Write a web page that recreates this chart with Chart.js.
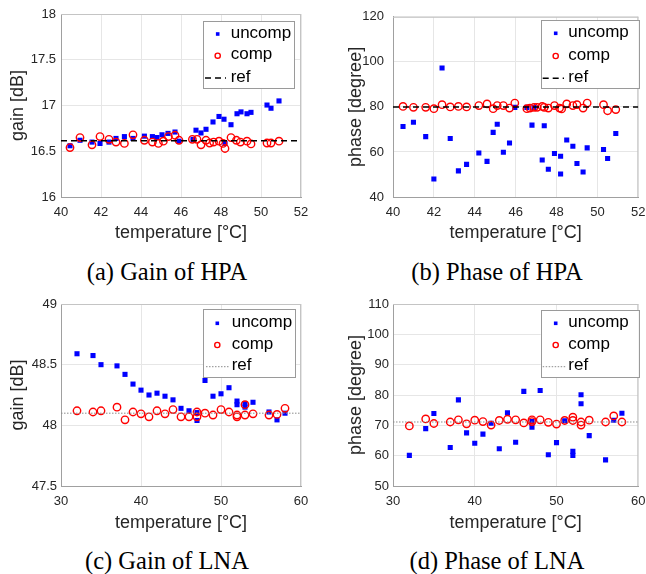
<!DOCTYPE html>
<html><head><meta charset="utf-8">
<script src="https://cdn.jsdelivr.net/npm/chart.js@4.4.1/dist/chart.umd.min.js"></script>
<style>
html,body{margin:0;padding:0;width:646px;height:574px;overflow:hidden;background:#fff;}
.panel{position:absolute;}
.panel canvas{display:block;}
.cap{position:absolute;font-family:"Liberation Serif","Times New Roman",serif;font-size:24.5px;color:#000;white-space:nowrap;transform:translate(-50%,-50%);line-height:1;}
</style></head><body>
<div class="panel" style="left:0px;top:0px"><canvas id="ca" width="323" height="250"></canvas></div>
<div class="panel" style="left:323px;top:0px"><canvas id="cb" width="330" height="250"></canvas></div>
<div class="panel" style="left:0px;top:290px"><canvas id="cc" width="323" height="250"></canvas></div>
<div class="panel" style="left:323px;top:290px"><canvas id="cd" width="330" height="250"></canvas></div>
<div class="cap" style="left:167px;top:272px">(a) Gain of HPA</div>
<div class="cap" style="left:497px;top:272px">(b) Phase of HPA</div>
<div class="cap" style="left:167px;top:561px">(c) Gain of LNA</div>
<div class="cap" style="left:497px;top:561px">(d) Phase of LNA</div>
<script>
// ---------------- DATA ----------------
const seriesNames = ['uncomp', 'comp', 'ref'];
const xTitle = 'temperature [°C]';
const yTitles = ['gain [dB]', 'phase [degree]', 'gain [dB]', 'phase [degree]'];

// HPA x ticks
const hpaXTicks = [40, 42, 44, 46, 48, 50, 52];
const hpaXTickLabels = ['40', '42', '44', '46', '48', '50', '52'];
// LNA x ticks
const lnaXTicks = [30, 40, 50, 60];
const lnaXTickLabels = ['30', '40', '50', '60'];

// (a) Gain of HPA
const gainHpaYTicks = [16, 16.5, 17, 17.5, 18];
const gainHpaYTickLabels = ['16', '16.5', '17', '17.5', '18'];
const gainHpaUncompTemp = [40.45,40.95,41.55,41.95,42.4,42.75,43.17,43.6,44.17,44.57,44.8,45.05,45.35,45.7,45.9,46.6,46.75,47.0,47.25,47.6,47.9,48.15,48.2,48.5,48.8,49.0,49.3,49.5,50.3,50.5,50.9];
const gainHpaUncomp = [16.56,16.62,16.60,16.585,16.60,16.64,16.66,16.64,16.665,16.66,16.65,16.68,16.695,16.71,16.61,16.63,16.73,16.70,16.74,16.82,16.88,16.85,16.585,16.79,16.91,16.93,16.91,16.925,17.005,16.97,17.05];
const gainHpaCompTemp = [40.45,40.95,41.55,41.95,42.4,42.75,43.17,43.6,44.17,44.57,44.87,45.12,45.37,45.7,45.9,46.57,46.8,47.0,47.25,47.43,47.63,47.9,48.1,48.2,48.5,48.77,48.97,49.3,49.5,50.3,50.5,50.9];
const gainHpaComp = [16.54,16.65,16.57,16.66,16.63,16.60,16.585,16.68,16.62,16.60,16.585,16.61,16.66,16.675,16.62,16.63,16.63,16.57,16.62,16.59,16.60,16.61,16.585,16.53,16.65,16.62,16.60,16.61,16.58,16.59,16.59,16.61];
const gainHpaRef = 16.615;

// (b) Phase of HPA
const phaseHpaYTicks = [40, 60, 80, 100, 120];
const phaseHpaYTickLabels = ['40', '60', '80', '100', '120'];
const phaseHpaUncompTemp = [40.49,41.0,41.6,42.0,42.4,42.8,43.2,43.6,44.2,44.6,44.9,45.1,45.4,45.7,45.96,46.55,46.8,46.9,47.3,47.4,47.6,47.9,48.2,48.2,48.5,48.8,49.0,49.3,49.5,50.3,50.5,50.9];
const phaseHpaUncomp = [71.3,73.2,66.8,48.0,97.3,66.0,51.6,54.5,59.5,55.8,68.7,72.3,59.9,64.0,79.8,79.8,71.9,79.8,56.4,71.6,52.3,59.3,58.1,50.2,65.3,62.5,54.9,51.1,61.8,61.1,57.1,68.2];
const phaseHpaCompTemp = [40.49,41.0,41.6,42.0,42.4,42.8,43.2,43.6,44.2,44.6,44.9,45.1,45.4,45.7,45.96,46.55,46.7,46.9,47.05,47.3,47.4,47.6,47.9,48.15,48.25,48.5,48.8,49.0,49.3,49.5,50.3,50.5,50.9];
const phaseHpaComp = [80.2,79.8,79.8,79.2,81.0,80.0,80.2,80.0,80.6,81.3,79.2,80.6,80.6,79.5,81.7,79.2,79.5,79.8,79.8,80.2,79.8,79.5,80.6,79.5,79.1,81.3,80.6,81.0,79.5,81.7,81.0,78.3,78.8];
const phaseHpaRef = 80;

// LNA temperatures
const lnaTemp = [32,34,35,37,38,39,40,41,42,43,44,45,46,47,47,48,49,50,51,52,52,53,53,54,56,57,58];

// (c) Gain of LNA
const gainLnaYTicks = [47.5, 48, 48.5, 49];
const gainLnaYTickLabels = ['47.5', '48', '48.5', '49'];
const gainLnaUncomp = [48.59,48.575,48.50,48.49,48.42,48.34,48.29,48.25,48.265,48.24,48.21,48.14,48.12,48.105,48.04,48.37,48.24,48.26,48.31,48.20,48.17,48.18,48.15,48.19,48.11,48.045,48.10];
const gainLnaComp = [48.12,48.11,48.12,48.15,48.045,48.11,48.095,48.07,48.12,48.095,48.13,48.07,48.07,48.11,48.07,48.10,48.085,48.13,48.11,48.085,48.07,48.17,48.085,48.095,48.085,48.09,48.14];
const gainLnaRef = 48.1;

// (d) Phase of LNA
const phaseLnaYTicks = [50, 60, 70, 80, 90, 100, 110];
const phaseLnaYTickLabels = ['50', '60', '70', '80', '90', '100', '110'];
const phaseLnaUncomp = [60.1,68.9,73.9,62.7,78.4,67.5,64.1,67.1,70.7,62.3,74.1,64.4,81.2,71.25,69.4,81.5,60.3,64.3,71.5,61.4,60.1,80.1,77.1,66.6,58.6,71.7,74.0];
const phaseLnaComp = [69.8,72.1,70.6,71.1,71.8,70.5,71.7,71.25,70.1,71.6,72.0,71.8,70.8,71.8,71.25,71.8,71.0,70.4,71.6,72.7,71.6,71.1,70.1,71.7,71.1,73.1,71.1];
const phaseLnaRef = 71.1;

// ---------------- LAYOUT / STYLE ----------------
const TXT = '#262626';
const FONT = '"Liberation Sans", Arial, Helvetica, sans-serif';

const layouts = {
  a: {L:0, T:0, W:323, H:250, area:{l:61, r:301, t:14, b:197}, yTickPad:5, yTitleX:18,
      leg:{x:203, y:21, w:91, h:67, mx:217.7, tx:230.7, rows:[34,55.7,78], lx0:205, lx1:226}, ref:'dash'},
  b: {L:323, T:0, W:330, H:250, area:{l:393, r:639, t:14, b:197}, yTickPad:9, yTitleX:356,
      leg:{x:540.7, y:20, w:98, h:68.3, mx:555.7, tx:568.3, rows:[33.3,56,78.3], lx0:542.7, lx1:564}, ref:'dash'},
  c: {L:0, T:290, W:323, H:250, area:{l:61, r:301, t:304, b:486}, yTickPad:4, yTitleX:18,
      leg:{x:203.3, y:309.3, w:91.7, h:68, mx:217.3, tx:231.7, rows:[323.3,345,366.7], lx0:206, lx1:229}, ref:'dot'},
  d: {L:323, T:290, W:330, H:250, area:{l:393, r:639, t:304, b:486}, yTickPad:4, yTitleX:356,
      leg:{x:540.7, y:310, w:98, h:67.3, mx:555.7, tx:568.3, rows:[323.3,345,366.7], lx0:542.7, lx1:566.7}, ref:'dot'}
};

const refStyles = {
  dash: {color:'#000000', width:1.5, dash:[6,4]},
  dot:  {color:'#8c8c8c', width:1, dash:[1.5,1.5]}
};

// plugin: frame (top/right edges) + boxed legend inside the axes
const framePlugin = {
  id: 'frameEdges',
  beforeDatasetsDraw(chart) {
    const {ctx, chartArea:a} = chart;
    ctx.save();
    ctx.strokeStyle = '#c4c4c4';
    ctx.lineWidth = 1;
    ctx.beginPath();
    ctx.moveTo(a.left, a.top + 0.5); ctx.lineTo(a.right, a.top + 0.5);
    ctx.moveTo(a.right - 0.5, a.top); ctx.lineTo(a.right - 0.5, a.bottom);
    ctx.stroke();
    ctx.restore();
  }
};
const boxLegendPlugin = {
  id: 'boxLegend',
  afterDraw(chart, args, opts) {
    const g = opts.geom; if (!g) return;
    const ctx = chart.ctx;
    const ox = opts.L, oy = opts.T;
    const ds = chart.data.datasets;
    ctx.save();
    ctx.fillStyle = '#ffffff';
    ctx.fillRect(g.x - ox, g.y - oy, g.w, g.h);
    ctx.strokeStyle = '#9a9a9a';
    ctx.lineWidth = 1;
    ctx.strokeRect(Math.round(g.x - ox) + 0.5, Math.round(g.y - oy) + 0.5, Math.round(g.w), Math.round(g.h));
    const y0 = g.rows[0] - oy, y1 = g.rows[1] - oy, y2 = g.rows[2] - oy;
    ctx.fillStyle = ds[0].backgroundColor;
    ctx.fillRect(g.mx - ox - 1.8, y0 - 1.8, 3.6, 3.6);
    ctx.strokeStyle = ds[1].borderColor;
    ctx.lineWidth = 1.4;
    ctx.beginPath(); ctx.arc(g.mx - ox, y1, 2.6, 0, Math.PI * 2); ctx.stroke();
    ctx.strokeStyle = ds[2].borderColor;
    ctx.lineWidth = ds[2].borderWidth;
    ctx.setLineDash(ds[2].borderDash);
    ctx.beginPath(); ctx.moveTo(g.lx0 - ox, y2); ctx.lineTo(g.lx1 - ox, y2); ctx.stroke();
    ctx.setLineDash([]);
    ctx.fillStyle = '#000000';
    ctx.font = '17px ' + FONT;
    ctx.textAlign = 'left';
    ctx.textBaseline = 'middle';
    ctx.fillText(ds[0].label, g.tx - ox, y0 - 1);
    ctx.fillText(ds[1].label, g.tx - ox, y1 - 1);
    ctx.fillText(ds[2].label, g.tx - ox, y2 - 1);
    ctx.restore();
  }
};

function pts(xs, ys) { return xs.map((x, i) => ({x: x, y: ys[i]})); }

function makeChart(id, key, xTicks, xLabels, yTicks, yLabels, yTitle, uX, uY, cX, cY, refVal) {
  const lay = layouts[key];
  const a = lay.area;
  const rs = refStyles[lay.ref];
  const yW = a.l - lay.L;
  const xH = lay.T + lay.H - a.b;
  const xMin = xTicks[0], xMax = xTicks[xTicks.length - 1];
  const yMin = yTicks[0], yMax = yTicks[yTicks.length - 1];
  return new Chart(document.getElementById(id), {
    type: 'scatter',
    data: {
      datasets: [
        {label: seriesNames[0], data: pts(uX, uY), pointStyle: 'rect', pointRadius: 3.6,
         backgroundColor: '#0000ff', borderColor: '#0000ff', borderWidth: 0, order: 3},
        {label: seriesNames[1], data: pts(cX, cY), pointStyle: 'circle', pointRadius: 3.7,
         backgroundColor: 'rgba(0,0,0,0)', borderColor: '#ff0000', borderWidth: 1.4, order: 2},
        {label: seriesNames[2], type: 'line', data: [{x: xMin, y: refVal}, {x: xMax, y: refVal}],
         showLine: true, pointRadius: 0, borderColor: rs.color, borderWidth: rs.width,
         borderDash: rs.dash, fill: false, order: 1}
      ]
    },
    options: {
      responsive: false, animation: false, events: [],
      layout: {padding: {left: 0, top: a.t - lay.T, right: lay.L + lay.W - a.r, bottom: 0}},
      plugins: {
        legend: {display: false}, tooltip: {enabled: false},
        boxLegend: {geom: lay.leg, L: lay.L, T: lay.T}
      },
      scales: {
        x: {
          type: 'linear', position: 'bottom', min: xMin, max: xMax,
          afterBuildTicks: s => { s.ticks = xTicks.map(v => ({value: v})); },
          afterFit: s => { s.height = xH; },
          ticks: {autoSkip: false, maxRotation: 0, padding: 7.5, color: TXT,
                  font: {family: FONT, size: 13},
                  callback: (v) => { const i = xTicks.indexOf(v); return i >= 0 ? xLabels[i] : ''; }},
          grid: {color: '#e6e6e6', lineWidth: 1, drawTicks: false},
          border: {display: true, color: '#a0a0a0', width: 1},
          title: {display: true, text: xTitle, color: TXT, font: {family: FONT, size: 18},
                  padding: {top: 0, bottom: 6.2}}
        },
        y: {
          type: 'linear', position: 'left', min: yMin, max: yMax,
          afterBuildTicks: s => { s.ticks = yTicks.map(v => ({value: v})); },
          afterFit: s => { s.width = yW; },
          ticks: {autoSkip: false, padding: lay.yTickPad, color: TXT,
                  font: {family: FONT, size: 13},
                  callback: (v) => { const i = yTicks.indexOf(v); return i >= 0 ? yLabels[i] : ''; }},
          grid: {color: '#e6e6e6', lineWidth: 1, drawTicks: false},
          border: {display: true, color: '#a0a0a0', width: 1},
          title: {display: true, text: yTitle, color: TXT, font: {family: FONT, size: 18},
                  padding: {top: lay.yTitleX - lay.L - 10.8, bottom: 0}}
        }
      }
    },
    plugins: [framePlugin, boxLegendPlugin]
  });
}

makeChart('ca', 'a', hpaXTicks, hpaXTickLabels, gainHpaYTicks, gainHpaYTickLabels, yTitles[0],
          gainHpaUncompTemp, gainHpaUncomp, gainHpaCompTemp, gainHpaComp, gainHpaRef);
makeChart('cb', 'b', hpaXTicks, hpaXTickLabels, phaseHpaYTicks, phaseHpaYTickLabels, yTitles[1],
          phaseHpaUncompTemp, phaseHpaUncomp, phaseHpaCompTemp, phaseHpaComp, phaseHpaRef);
makeChart('cc', 'c', lnaXTicks, lnaXTickLabels, gainLnaYTicks, gainLnaYTickLabels, yTitles[2],
          lnaTemp, gainLnaUncomp, lnaTemp, gainLnaComp, gainLnaRef);
makeChart('cd', 'd', lnaXTicks, lnaXTickLabels, phaseLnaYTicks, phaseLnaYTickLabels, yTitles[3],
          lnaTemp, phaseLnaUncomp, lnaTemp, phaseLnaComp, phaseLnaRef);
</script>
</body></html>
